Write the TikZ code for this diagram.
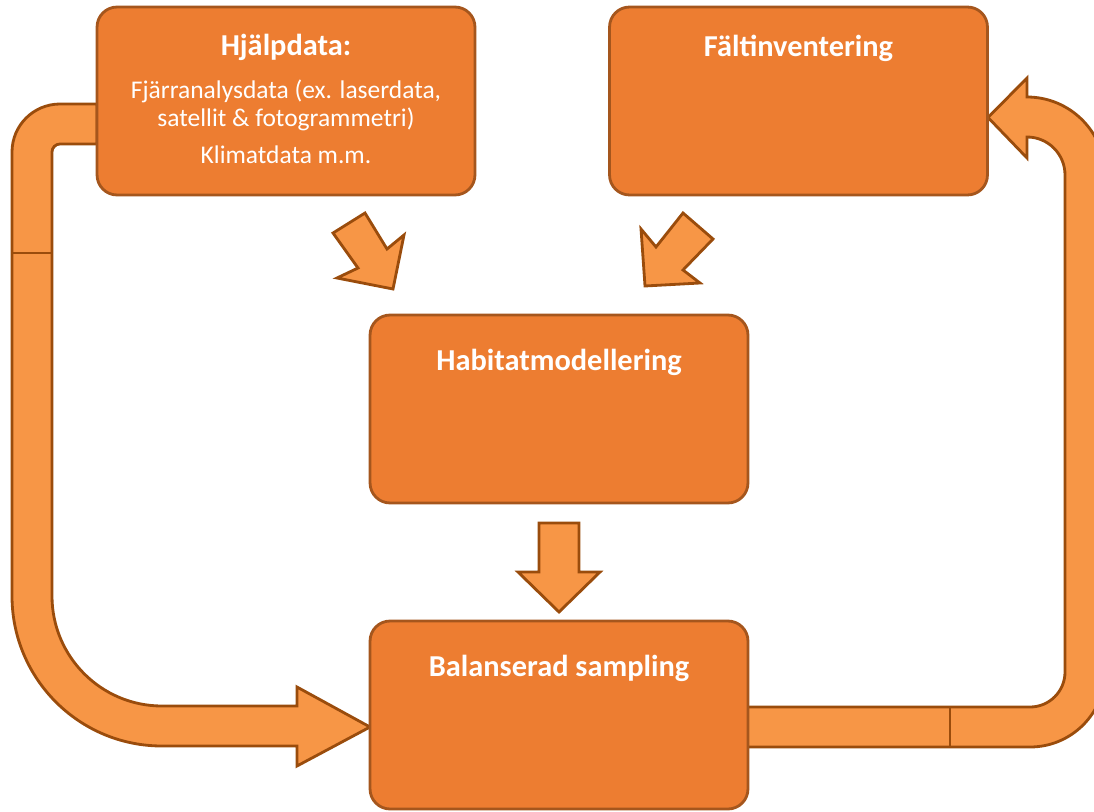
\documentclass[tikz,border=0pt]{standalone}
\usepackage{fontspec}
\setmainfont{Carlito}
\usetikzlibrary{positioning}
\definecolor{BoxOrange}{HTML}{ED7D31}
\definecolor{BoxEdge}{HTML}{A5561D}
\definecolor{ArrowOrange}{HTML}{F79646}
\definecolor{ArrowEdge}{HTML}{9A4C0C}
\tikzset{
  databox/.style={draw=BoxEdge, line width=1.6pt, fill=BoxOrange,
                  rounded corners=0.4cm, minimum width=7.56cm,
                  minimum height=3.76cm, inner sep=0pt},
  boxtitle/.style={font=\fontsize{17.3}{20}\selectfont\bfseries, text=white},
  boxtext/.style={font=\fontsize{14.5}{15.9}\selectfont, text=white,
                  align=center},
  blockarrow/.style={draw=ArrowEdge, line width=1.6pt, fill=ArrowOrange,
                     line join=miter},
  seam/.style={draw=ArrowEdge, line width=1.6pt},
}

\begin{document}
\begin{tikzpicture}[x=0.02cm, y=-0.02cm]
  \clip (0,0) rectangle (1094,811);
  % loop back from the sampling box up to the field inventory
  \draw[blockarrow] (747,707) -- (1030,707)
    arc[start angle=90, end angle=0, radius=35] -- (1065,175)
    arc[start angle=0, end angle=-90, radius=38] -- (1027,137)
    -- (1027,158) -- (988,117.5) -- (1027,78) -- (1027,97)
    arc[start angle=-90, end angle=0, radius=78] -- (1105,672)
    arc[start angle=0, end angle=90, radius=75] -- (747,747) -- cycle;
  \draw[seam] (950,707) -- (950,747);
  % auxiliary data straight into the sampling box
  \draw[blockarrow] (97,104) -- (60,104)
    arc[start angle=270, end angle=180, radius=48] -- (12,596)
    arc[start angle=180, end angle=90, radius=150] -- (297,746)
    -- (297,766) -- (370,727) -- (297,687) -- (297,706) -- (162,706)
    arc[start angle=90, end angle=180, radius=110] -- (52,152)
    arc[start angle=180, end angle=270, radius=8] -- (97,144) -- cycle;
  \draw[seam] (12,253) -- (52,253);
  % small arrows between the boxes
  \draw[blockarrow] (365,213) -- (387,249) -- (404,235) -- (393,289)
    -- (337,278) -- (358,268) -- (333,233) -- cycle;
  \draw[blockarrow] (683,213) -- (713,239) -- (683,270) -- (700,283)
    -- (645,286) -- (641,229) -- (656,247) -- cycle;
  \draw[blockarrow] (539,523) -- (579,523) -- (579,572) -- (600,572)
    -- (559,612) -- (518,572) -- (539,572) -- cycle;

  \node[databox] (hjalp) at (286,101) {};
  \node[databox] (falt) at (798.5,101) {};
  \node[databox] (habitat) at (559,409) {};
  \node[databox] (sampling) at (559,715) {};

  \node[boxtitle] (hjalptitle) at (286,47) {Hjälpdata:};
  \node[boxtext] (hjalptext) at (286,122)
    {Fjärranalysdata (ex. laserdata,\\ satellit \& fotogrammetri)\\[5pt]
     Klimatdata m.m.};
  \node[boxtitle] (falttitle) at (798.5,48) {Fältinventering};
  \node[boxtitle] (habitattitle) at (559,362) {Habitatmodellering};
  \node[boxtitle] (samplingtitle) at (559,668) {Balanserad sampling};
\end{tikzpicture}
\end{document}
